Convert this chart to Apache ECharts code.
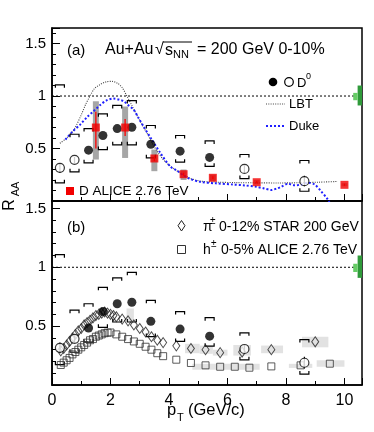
<!DOCTYPE html>
<html><head><meta charset="utf-8">
<script src="https://cdn.jsdelivr.net/npm/echarts@6.0.0/dist/echarts.min.js"></script>
<style>html,body{margin:0;padding:0;background:#fff}#c{width:374px;height:432px}</style>
</head><body><div id="c"></div>
<script>
// ---------- data ----------
const d0FilledX = [1.25, 1.74, 2.23, 2.73, 3.38, 4.38, 5.39];
const d0FilledY = [0.484, 0.624, 0.69, 0.703, 0.541, 0.475, 0.415];
const d0FilledSysLo = [0.364, 0.49, 0.535, 0.535, 0.411, 0.37, 0.33];
const d0FilledSysHi = [0.69, 0.83, 0.91, 0.957, 0.719, 0.624, 0.572];
const d0OpenX = [0.27, 0.77, 6.58, 8.63];
const d0OpenY = [0.316, 0.392, 0.306, 0.189];
const d0OpenSysLo = [0.173, 0.278, 0.214, 0.093];
const d0OpenSysHi = [1.107, 0.636, 0.443, 0.386];
const d0OpenStatLo = [0.27, 0.36, 0.27, 0.14];
const d0OpenStatHi = [0.36, 0.42, 0.34, 0.24];

const aliceDX = [1.5, 2.5, 3.5, 4.5, 5.5, 7.0, 10.0];
const aliceDY = [0.70, 0.70, 0.405, 0.255, 0.221, 0.179, 0.154];
const aliceDStatLo = [0.50, 0.62, 0.38, 0.24, 0.21, 0.17, 0.145];
const aliceDStatHi = [0.85, 0.78, 0.43, 0.27, 0.235, 0.19, 0.165];
const aliceDSysLo = [0.395, 0.41, 0.284, 0.20, 0.19, 0.16, 0.14];
const aliceDSysHi = [0.95, 0.90, 0.49, 0.30, 0.25, 0.20, 0.17];

const lbtX = [0.27,0.5,0.75,1.0,1.15,1.3,1.45,1.65,1.85,2.05,2.25,2.4,2.56,2.75,2.9,3.07,3.24,3.41,3.58,3.76,3.93,4.15,4.38,4.7,5.06,5.6,6.3,7.0,7.7,8.5,9.1,9.77];
const lbtY = [0.55,0.60,0.68,0.82,0.92,1.0,1.07,1.11,1.135,1.14,1.12,1.08,1.0,0.9,0.82,0.73,0.65,0.56,0.48,0.41,0.36,0.31,0.27,0.22,0.19,0.18,0.175,0.173,0.172,0.174,0.179,0.186];

const dukeX = [0.46,0.7,0.97,1.2,1.42,1.65,1.88,2.1,2.3,2.45,2.62,2.79,2.96,3.13,3.41,3.7,4.04,4.27,4.49,4.72,5.06,5.6,6.19,6.6,6.99,7.25,7.5,7.7,7.84,8.07,8.3,8.52,8.75,8.98,9.2,9.43,9.55];
const dukeY = [0.586,0.66,0.73,0.80,0.855,0.915,0.96,0.976,0.965,0.95,0.91,0.87,0.79,0.71,0.586,0.46,0.33,0.29,0.245,0.21,0.183,0.168,0.157,0.148,0.135,0.12,0.105,0.12,0.135,0.164,0.15,0.157,0.173,0.157,0.093,0.014,-0.05];

const piX = [0.3,0.4,0.5,0.6,0.7,0.8,0.9,1.0,1.1,1.2,1.3,1.4,1.5,1.6,1.7,1.8,1.9,2.0,2.1,2.2,2.4,2.6,2.8,3.0,3.2,3.4,3.6,3.8,4.25,4.75,5.25,5.75,6.5,7.5,9.0];
const piY = [0.29,0.31,0.34,0.37,0.40,0.43,0.46,0.48,0.51,0.53,0.55,0.57,0.59,0.60,0.61,0.62,0.61,0.60,0.59,0.58,0.56,0.545,0.51,0.48,0.45,0.41,0.38,0.36,0.333,0.31,0.30,0.275,0.28,0.30,0.367];
const hX = [0.3,0.4,0.5,0.6,0.7,0.8,0.9,1.0,1.1,1.2,1.3,1.4,1.5,1.6,1.7,1.8,1.9,2.0,2.2,2.4,2.6,2.8,3.0,3.2,3.4,3.6,3.8,4.25,4.75,5.25,5.75,6.25,6.75,7.5,8.5,9.5];
const hY = [0.17,0.19,0.21,0.23,0.26,0.28,0.30,0.32,0.34,0.36,0.38,0.39,0.41,0.42,0.43,0.44,0.445,0.446,0.43,0.41,0.39,0.37,0.35,0.325,0.30,0.27,0.245,0.215,0.187,0.167,0.155,0.155,0.147,0.158,0.167,0.181];
// systematic boxes in (b): x0, x1, lo, hi
const piSysX0 = [2.55, 4.55, 5.05, 5.5, 6.2, 7.15, 8.55];
const piSysX1 = [2.8, 5.05, 5.5, 6.0, 6.8, 7.9, 9.45];
const piSysLo = [0.54, 0.27, 0.265, 0.25, 0.25, 0.27, 0.32];
const piSysHi = [0.65, 0.35, 0.335, 0.30, 0.34, 0.335, 0.41];
const hSysX0 = [4.8, 8.1, 9.05];
const hSysX1 = [7.1, 8.9, 10.0];
const hSysLo = [0.13, 0.145, 0.155];
const hSysHi = [0.18, 0.18, 0.21];
// normalisation boxes at unity
const normX0 = [10.45, 10.3];
const normX1 = [10.6, 10.45];
const normLo = [0.91, 0.96];
const normHi = [1.10, 1.03];
const normColors = ['#2f9a3a', '#66cc66'];
const unityX = [0, 10.4];
const unityY = [1, 1];

// ---------- chart ----------
const FONT = '"Liberation Sans", Arial, Helvetica, sans-serif';
const chart = echarts.init(document.getElementById('c'), null, {renderer: 'canvas'});

function yFmt(v) {
  if (v <= 0) return '';
  const t = Math.round(v * 2);
  if (Math.abs(v * 2 - t) > 1e-6) return '';
  return String(t / 2);
}
function xFmt(v) {
  if (Math.abs(v - Math.round(v)) > 1e-6 || v > 10.01) return '';
  return String(Math.round(v));
}
function bracketRender(params, api) {
  const x = api.value(0), lo = api.value(1), hi = api.value(2);
  const pH = api.coord([x, hi]), pL = api.coord([x, lo]);
  const w = 4.5, h = 3;
  const st = {stroke: '#000', lineWidth: 1.2, fill: null};
  return {type: 'group', children: [
    {type: 'polyline', shape: {points: [[pH[0]-w, pH[1]+h], [pH[0]-w, pH[1]], [pH[0]+w, pH[1]], [pH[0]+w, pH[1]+h]]}, style: st},
    {type: 'polyline', shape: {points: [[pL[0]-w, pL[1]-h], [pL[0]-w, pL[1]], [pL[0]+w, pL[1]], [pL[0]+w, pL[1]-h]]}, style: st}
  ]};
}
function errRender(color, lw) {
  return function (params, api) {
    const x = api.value(0);
    const a = api.coord([x, api.value(1)]), b = api.coord([x, api.value(2)]);
    return {type: 'line', shape: {x1: a[0], y1: a[1], x2: b[0], y2: b[1]}, style: {stroke: color, lineWidth: lw}};
  };
}
function boxRender(colorFn, halfPx) {
  return function (params, api) {
    const x0 = api.value(0), x1 = api.value(1);
    const p0 = api.coord([x0, api.value(3)]), p1 = api.coord([x1, api.value(2)]);
    let left = p0[0], width = p1[0] - p0[0];
    if (halfPx) { const cx = p0[0]; left = cx - halfPx; width = 2 * halfPx; }
    return {type: 'rect', shape: {x: left, y: p0[1], width: width, height: p1[1] - p0[1]},
      style: {fill: colorFn(params.dataIndex)}};
  };
}

const xAxisBase = {
  type: 'value', min: 0, max: 10.6, interval: 2,
  axisLine: {show: true, lineStyle: {color: '#000', width: 1.5}},
  axisTick: {show: true, inside: true, length: 7, lineStyle: {color: '#000', width: 1}},
  minorTick: {show: true, splitNumber: 2, length: 4, lineStyle: {color: '#000', width: 1}},
  splitLine: {show: false}, minorSplitLine: {show: false}
};
const yAxisBase = {
  type: 'value', min: 0, interval: 0.5,
  axisLine: {show: true, lineStyle: {color: '#000', width: 1.5}},
  axisTick: {show: true, inside: true, length: 8, lineStyle: {color: '#000', width: 1}},
  minorTick: {show: true, splitNumber: 5, length: 4, lineStyle: {color: '#000', width: 1}},
  splitLine: {show: false}, minorSplitLine: {show: false},
  axisLabel: {formatter: yFmt, fontSize: 15, fontFamily: FONT, color: '#000', margin: 6}
};

const zip3 = (a, b, c) => a.map((v, i) => [v, b[i], c[i]]);
const zip4 = (a, b, c, d) => a.map((v, i) => [v, b[i], c[i], d[i]]);
const zip2 = (a, b) => a.map((v, i) => [v, b[i]]);

function d0Series(ax) {
  return [
    {type: 'custom', xAxisIndex: ax, yAxisIndex: ax, renderItem: bracketRender, z: 5,
      data: zip3(d0FilledX, d0FilledSysLo, d0FilledSysHi), clip: true, silent: true},
    {type: 'custom', xAxisIndex: ax, yAxisIndex: ax, renderItem: bracketRender, z: 5,
      data: zip3(d0OpenX, d0OpenSysLo, d0OpenSysHi), clip: true, silent: true},
    {type: 'custom', xAxisIndex: ax, yAxisIndex: ax, renderItem: errRender('#000', 1.2), z: 5,
      data: zip3(d0OpenX, d0OpenStatLo, d0OpenStatHi), clip: true, silent: true},
    {type: 'scatter', xAxisIndex: ax, yAxisIndex: ax, symbol: 'circle', symbolSize: 9, z: 8,
      itemStyle: {color: '#000'}, data: zip2(d0FilledX, d0FilledY), silent: true},
    {type: 'scatter', xAxisIndex: ax, yAxisIndex: ax, symbol: 'circle', symbolSize: 9, z: 8,
      itemStyle: {color: '#fff', borderColor: '#000', borderWidth: 1.2}, data: zip2(d0OpenX, d0OpenY), silent: true}
  ];
}
function unitySeries(ax) {
  return [
    {type: 'line', xAxisIndex: ax, yAxisIndex: ax, data: zip2(unityX, unityY), symbol: 'none', z: 2,
      lineStyle: {color: '#000', width: 1, type: [2, 2]}, silent: true},
    {type: 'custom', xAxisIndex: ax, yAxisIndex: ax, z: 3, silent: true,
      renderItem: boxRender(i => normColors[i]), data: zip4(normX0, normX1, normLo, normHi)}
  ];
}

const series = [
  // ---- panel (a)
  ...unitySeries(0),
  {type: 'custom', xAxisIndex: 0, yAxisIndex: 0, z: 1, silent: true,
    renderItem: boxRender(() => '#a6a6a6', 3), data: zip4(aliceDX, aliceDX, aliceDSysLo, aliceDSysHi)},
  {type: 'line', xAxisIndex: 0, yAxisIndex: 0, data: zip2(lbtX, lbtY), symbol: 'none', smooth: 0.3, z: 3,
    lineStyle: {color: '#444', width: 1.1, type: [1, 1.3]}, silent: true},
  {type: 'line', xAxisIndex: 0, yAxisIndex: 0, data: zip2(dukeX, dukeY), symbol: 'none', smooth: 0.3, z: 3,
    lineStyle: {color: '#1f1fff', width: 2, type: [2, 2]}, silent: true},
  {type: 'custom', xAxisIndex: 0, yAxisIndex: 0, renderItem: errRender('#f00', 1.3), z: 6,
    data: zip3(aliceDX, aliceDStatLo, aliceDStatHi), silent: true},
  {type: 'scatter', xAxisIndex: 0, yAxisIndex: 0, symbol: 'rect', symbolSize: 8, z: 9,
    itemStyle: {color: '#f20000'}, data: zip2(aliceDX, aliceDY), silent: true},
  ...d0Series(0),
  // ---- panel (b)
  ...unitySeries(1),
  {type: 'custom', xAxisIndex: 1, yAxisIndex: 1, z: 1, silent: true,
    renderItem: boxRender(() => '#e2e2e2'), data: zip4(piSysX0, piSysX1, piSysLo, piSysHi)},
  {type: 'custom', xAxisIndex: 1, yAxisIndex: 1, z: 1, silent: true,
    renderItem: boxRender(() => '#e2e2e2'), data: zip4(hSysX0, hSysX1, hSysLo, hSysHi)},
  {type: 'scatter', xAxisIndex: 1, yAxisIndex: 1, symbol: 'diamond', symbolSize: [7, 10], z: 6,
    itemStyle: {color: 'rgba(255,255,255,0)', borderColor: '#222', borderWidth: 1}, data: zip2(piX, piY), silent: true},
  {type: 'scatter', xAxisIndex: 1, yAxisIndex: 1, symbol: 'rect', symbolSize: 7, z: 6,
    itemStyle: {color: 'rgba(255,255,255,0)', borderColor: '#333', borderWidth: 1}, data: zip2(hX, hY), silent: true},
  ...d0Series(1)
];

function txt(x, y, text, size, extra) {
  return Object.assign({type: 'text', x: x, y: y, z: 100,
    style: {text: text, fontSize: size, fontFamily: FONT, fill: '#000', verticalAlign: 'middle', align: 'left'}}, extra || {});
}

const graphic = [
  // panel (a) header
  txt(67, 51, '(a)', 15),
  txt(105, 50, 'Au+Au', 16),
  txt(155, 50, '\u221A', 16),
  {type: 'line', z: 100, shape: {x1: 163, y1: 42, x2: 192, y2: 42}, style: {stroke: '#000', lineWidth: 1}},
  txt(165, 51, 's', 16),
  txt(173, 55, 'NN', 11),
  txt(197, 50, '= 200 GeV 0-10%', 16),
  // legend (a)
  {type: 'circle', z: 100, shape: {cx: 273, cy: 82, r: 4.3}, style: {fill: '#000'}},
  {type: 'circle', z: 100, shape: {cx: 289, cy: 82, r: 4.3}, style: {fill: '#fff', stroke: '#000', lineWidth: 1.2}},
  txt(297, 83, 'D', 13),
  txt(306, 77, '0', 9),
  {type: 'line', z: 100, shape: {x1: 266, y1: 104, x2: 285, y2: 104}, style: {stroke: '#444', lineWidth: 1.1, lineDash: [1, 1.3]}},
  txt(289, 104, 'LBT', 13),
  {type: 'line', z: 100, shape: {x1: 266, y1: 126, x2: 285, y2: 126}, style: {stroke: '#1f1fff', lineWidth: 2, lineDash: [2, 2]}},
  txt(289, 126, 'Duke', 13),
  {type: 'rect', z: 100, shape: {x: 66, y: 187, width: 8, height: 8}, style: {fill: '#f20000'}},
  txt(79, 191, 'D ALICE 2.76 TeV', 13.5),
  // panel (b) header + legend
  txt(67, 228, '(b)', 15),
  {type: 'polygon', z: 100, shape: {points: [[181.5, 220.5], [185, 225.7], [181.5, 231], [178, 225.7]]}, style: {fill: null, stroke: '#222', lineWidth: 1}},
  txt(203, 227, '\u03C0', 14),
  txt(210, 221, '\u00B1', 10),
  txt(219, 227, '0-12% STAR 200 GeV', 14),
  {type: 'rect', z: 100, shape: {x: 177.5, y: 245.5, width: 8, height: 8}, style: {fill: null, stroke: '#333', lineWidth: 1}},
  txt(203, 250, 'h', 14),
  txt(211, 244, '\u00B1', 10),
  txt(221, 250, '0-5% ALICE 2.76 TeV', 14),
  // axis titles
  txt(10, 205, 'R', 16, {rotation: Math.PI / 2, style: {text: 'R', fontSize: 16, fontFamily: FONT, fill: '#000', align: 'center', verticalAlign: 'middle'}}),
  txt(16, 189, 'AA', 11, {rotation: Math.PI / 2, style: {text: 'AA', fontSize: 11, fontFamily: FONT, fill: '#000', align: 'center', verticalAlign: 'middle'}}),
  txt(167, 410, 'p', 16.5),
  txt(177, 418, 'T', 11),
  txt(188, 410, '(GeV/c)', 16.5)
];

chart.setOption({
  animation: false,
  backgroundColor: '#fff',
  grid: [
    {left: 52, top: 28, width: 310, height: 173, show: true, borderColor: '#000', borderWidth: 1.5, backgroundColor: 'transparent'},
    {left: 52, top: 201, width: 310, height: 184, show: true, borderColor: '#000', borderWidth: 1.5, backgroundColor: 'transparent'}
  ],
  xAxis: [
    Object.assign({}, xAxisBase, {gridIndex: 0, axisLabel: {show: false}}),
    Object.assign({}, xAxisBase, {gridIndex: 1, axisLabel: {formatter: xFmt, fontSize: 16, fontFamily: FONT, color: '#000', margin: 8}})
  ],
  yAxis: [
    Object.assign({}, yAxisBase, {gridIndex: 0, max: 1.648}),
    Object.assign({}, yAxisBase, {gridIndex: 1, max: 1.563})
  ],
  series: series,
  graphic: graphic
});
</script></body></html>
